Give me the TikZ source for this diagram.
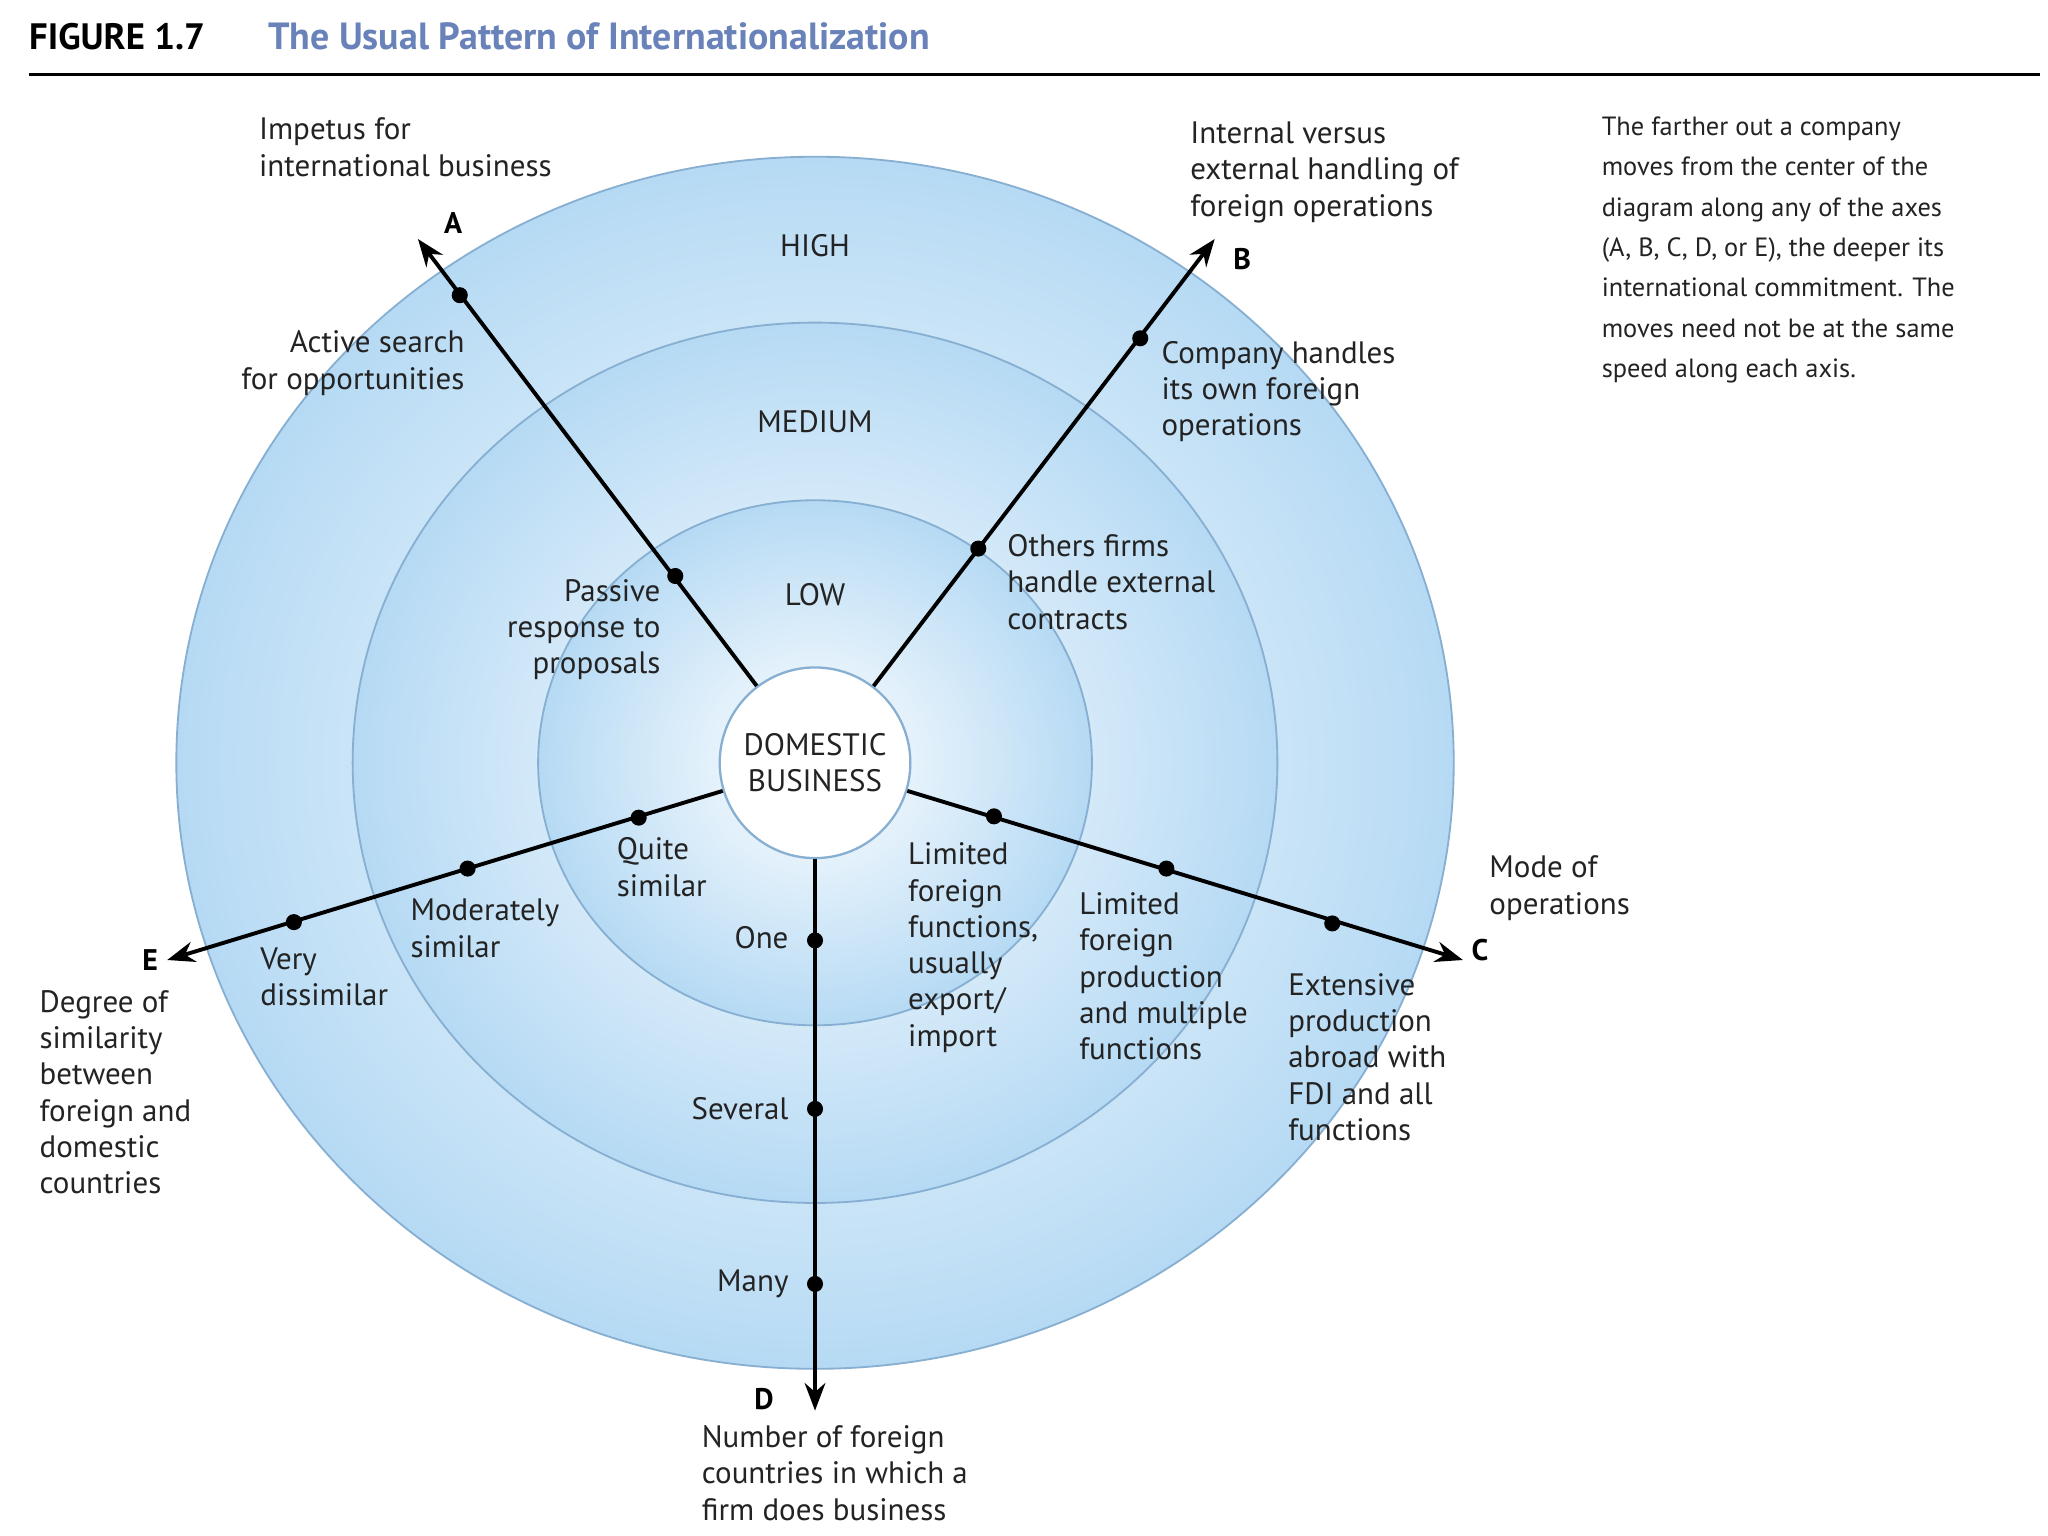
\documentclass[tikz,border=0pt]{standalone}
\usepackage{fontspec}
\setmainfont{PT Sans}
\usetikzlibrary{arrows.meta}
\definecolor{ringblue}{RGB}{182,218,244}
\definecolor{ringedge}{RGB}{135,175,210}
\definecolor{titleblue}{RGB}{105,130,185}
\definecolor{txt}{RGB}{35,35,35}
\begin{document}
\begin{tikzpicture}[x=0.02cm,y=-0.02cm,
  lab/.style={text=txt,font=\fontsize{13.5}{15.8}\selectfont,inner sep=0pt,align=left},
  labr/.style={lab,align=right},
  ring/.style={draw=ringedge,line width=0.8pt,inner color=white,outer color=ringblue},
  axis/.style={line width=1.7pt,-{Stealth[length=12pt,width=9pt]}},
  dot/.style={circle,fill=black,minimum size=7pt,inner sep=0pt},
  letter/.style={font=\fontsize{13}{15}\selectfont\bfseries,text=black,inner sep=0pt}]
\useasboundingbox (0,0) rectangle (1568,1176);
\fill[white] (0,0) rectangle (1568,1176);
% title
\node[anchor=base west,inner sep=0pt,font=\fontsize{16}{18}\selectfont\bfseries] (fig) at (22,38) {FIGURE 1.7};
\node[anchor=base west,inner sep=0pt,text=titleblue,font=\fontsize{16.5}{18}\selectfont\bfseries] (ttl) at (205,38) {The Usual Pattern of Internationalization};
\draw[line width=1.3pt] (22,57) -- (1562,57);
% rings
\shade[ring] (624,584) ellipse [x radius=489,y radius=464];
\shade[ring] (624,584) ellipse [x radius=354,y radius=337];
\shade[ring] (624,584) ellipse [x radius=212,y radius=201];
\node[circle,draw=ringedge,line width=1pt,fill=white,inner sep=0pt,minimum size=2.92cm,align=center,text=txt,font=\fontsize{13.5}{15.8}\selectfont] (c) at (624,584) {DOMESTIC\\BUSINESS};
% ends
\coordinate (A) at (320,183);
\coordinate (B) at (930,183);
\coordinate (C) at (1120,735);
\coordinate (D) at (624,1080);
\coordinate (E) at (128,735);
\draw[axis] (c) -- (A);
\draw[axis] (c) -- (B);
\draw[axis] (c) -- (C);
\draw[axis] (c) -- (D);
\draw[axis] (c) -- (E);
\foreach \n/\p in {a1/{(352,226)},a2/{(517,441)},b1/{(873,259)},b2/{(749,420)},c1/{(761,625)},c2/{(893,665)},c3/{(1020,707)},d1/{(624,720)},d2/{(624,849)},d3/{(624,983)},e1/{(489,626)},e2/{(358,665)},e3/{(225,706)}}
  \node[dot] (\n) at \p {};
% ring labels
\node[lab] (high) at (624,188) {HIGH};
\node[lab] (med) at (624,323) {MEDIUM};
\node[lab] (low) at (624,455) {LOW};
% A
\node[lab,anchor=north west] (ta) at (198,90) {Impetus for\\international business};
\node[letter] (la) at (347,171) {A};
\node[labr,anchor=north east] (a1t) at (356,253) {Active search\\for opportunities};
\node[labr,anchor=north east] (a2t) at (506,443) {Passive\\response to\\proposals};
% B
\node[lab,anchor=north west] (tb) at (911,93) {Internal versus\\external handling of\\foreign operations};
\node[letter] (lb) at (951,198) {B};
\node[lab,anchor=north west] (b1t) at (889,261) {Company handles\\its own foreign\\operations};
\node[lab,anchor=north west] (b2t) at (771,409) {Others firms\\handle external\\contracts};
% note
\node[anchor=north west,inner sep=0pt,align=left,text=txt,font=\fontsize{11.5}{17.6}\selectfont] (note) at (1226,89) {The farther out a company\\moves from the center of the\\diagram along any of the axes\\(A, B, C, D, or E), the deeper its\\international commitment. The\\moves need not be at the same\\speed along each axis.};
% C
\node[lab,anchor=north west] (tc) at (1140,655) {Mode of\\operations};
\node[letter] (lc) at (1133,727) {C};
\node[lab,anchor=north west] (c1t) at (695,645) {Limited\\foreign\\functions,\\usually\\export/\\import};
\node[lab,anchor=north west] (c2t) at (826,683) {Limited\\foreign\\production\\and multiple\\functions};
\node[lab,anchor=north west] (c3t) at (986,745) {Extensive\\production\\abroad with\\FDI and all\\functions};
% D
\node[lab,anchor=east] (d1t) at (604,718) {One};
\node[lab,anchor=east] (d2t) at (604,849) {Several};
\node[lab,anchor=east] (d3t) at (604,983) {Many};
\node[letter] (ld) at (585,1071) {D};
\node[lab,anchor=north west] (td) at (537,1091) {Number of foreign\\countries in which a\\firm does business};
% E
\node[lab,anchor=north west] (e1t) at (472,641) {Quite\\similar};
\node[lab,anchor=north west] (e2t) at (314,688) {Moderately\\similar};
\node[lab,anchor=north west] (e3t) at (199,725) {Very\\dissimilar};
\node[letter] (le) at (115,735) {E};
\node[lab,anchor=north west] (te) at (30,758) {Degree of\\similarity\\between\\foreign and\\domestic\\countries};
\end{tikzpicture}
\end{document}
